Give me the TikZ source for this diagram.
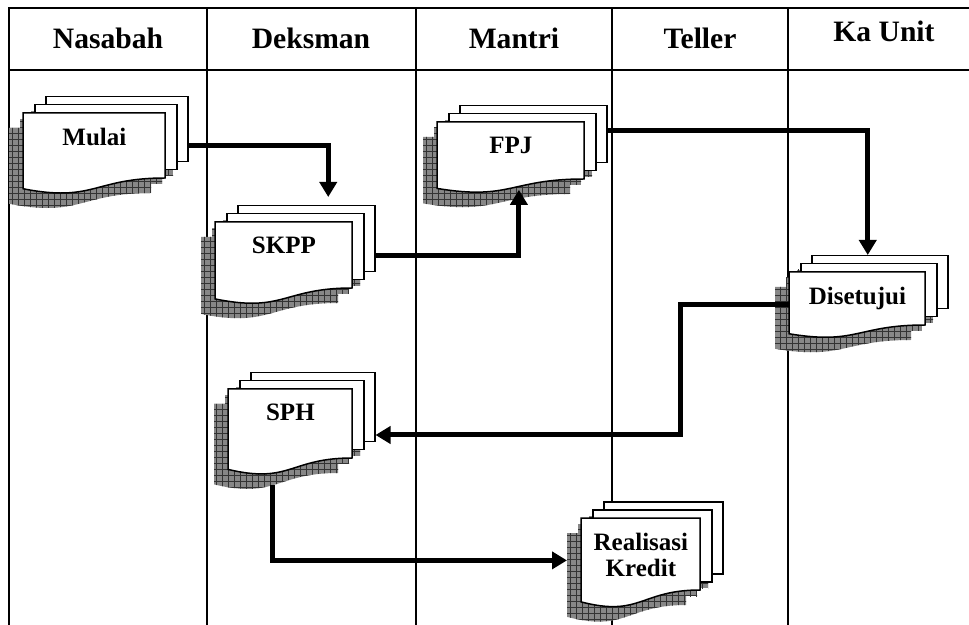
\documentclass[tikz,border=0pt]{standalone}
\usepackage{fontspec}
\setmainfont{Liberation Serif}
\usepackage{tikz}
\usetikzlibrary{calc, positioning, arrows.meta, patterns}
\definecolor{shade}{RGB}{135, 135, 135}

% stack of documents: name, x, y, width, height, label
\newcommand{\docstack}[6]{%
  \foreach \dx/\dy in {8/-2, -3/6} {
    \fill[docshadow] (#2+\dx, #3+\dy) rectangle ++(#4, #5);
  }
  \fill[docshadow] (#2-14, #3+15) -- ++(#4, 0) -- ++(0, #5)
    .. controls (#2-14+0.5*#4, #3+15+#5) and (#2-14+0.5*#4, #3+15+1.38*#5)
    .. (#2-14, #3+15+1.165*#5) -- cycle;
  \node[docpage, docbox, minimum width=#4*0.5pt, minimum height=#5*0.5pt] (#1-3) at (#2+22, #3-17) {};
  \node[docpage, docbox, minimum width=#4*0.5pt, minimum height=#5*0.5pt] (#1-2) at (#2+11, #3-9) {};
  \draw[docpage] (#2, #3) -- (#2+#4, #3) -- (#2+#4, #3+#5)
    .. controls (#2+0.5*#4, #3+#5) and (#2+0.5*#4, #3+1.38*#5)
    .. (#2, #3+1.165*#5) -- cycle;
  \node[docbox, minimum width=#4*0.5pt, minimum height=#5*0.5pt] (#1) at (#2, #3) {};
  \node[doctext, below=7.5pt of #1.north] (#1-label) {#6};
}

\begin{document}
\begin{tikzpicture}[x=0.5pt, y=-0.5pt,
    laneline/.style={line width=1pt},
    headtext/.style={anchor=base, font=\fontsize{14.8}{17}\selectfont\bfseries},
    docpage/.style={draw, fill=white, line width=0.75pt},
    docbox/.style={anchor=north west, inner sep=0pt},
    doctext/.style={inner sep=0pt, align=center, font=\fontsize{12.5}{13}\selectfont\bfseries},
    docshadow/.style={fill=shade, postaction={pattern=grid, pattern color=black!80}},
    flowline/.style={line width=2.5pt, -{Triangle[length=7.5pt, width=8.5pt]}}]
  \useasboundingbox (0,0) rectangle (969,625);

  % Draw the lanes
  \draw[laneline] (9,625) -- (9,8) -- (969,8);
  \draw[laneline] (9,70) -- (969,70);
  \foreach \x in {207,416,612,788} {
    \draw[laneline] (\x,8) -- (\x,625);
  }
  \node[headtext] (nasabah) at (108,49) {Nasabah};
  \node[headtext] (deksman) at (311,49) {Deksman};
  \node[headtext] (mantri) at (514,49) {Mantri};
  \node[headtext] (teller) at (700,49) {Teller};
  \node[headtext] (kaunit) at (884,42) {Ka Unit};

  % Documents
  \docstack{mulai}{23}{113}{142}{65}{Mulai}
  \docstack{skpp}{215}{222}{137}{66}{SKPP}
  \docstack{fpj}{437}{122}{147}{57}{FPJ}
  \docstack{diset}{789}{272}{136}{53}{Disetujui}
  \docstack{sph}{228}{389}{124}{69}{SPH}
  \docstack{real}{581}{518}{119}{72}{Realisasi\\Kredit}

  % Flow
  \draw[flowline, shorten >=4pt] (mulai-3.east |- mulai.east) -| ([xshift=11pt]skpp-3.north);
  \draw[flowline] (skpp-3.east |- skpp.east) -| ([xshift=4pt, yshift=-5pt]fpj.south);
  \draw[flowline] ([yshift=2pt]fpj-3.east) -| ([xshift=-6pt]diset-3.north);
  \coordinate (bend) at (680,435);
  \draw[flowline] ([yshift=-3pt]diset.west) -| (bend) -- (bend -| sph-3.east);
  \draw[flowline] ([xshift=-9pt, yshift=-13pt]sph.south) |- ([xshift=-7pt, yshift=-3pt]real.west);
\end{tikzpicture}
\end{document}
